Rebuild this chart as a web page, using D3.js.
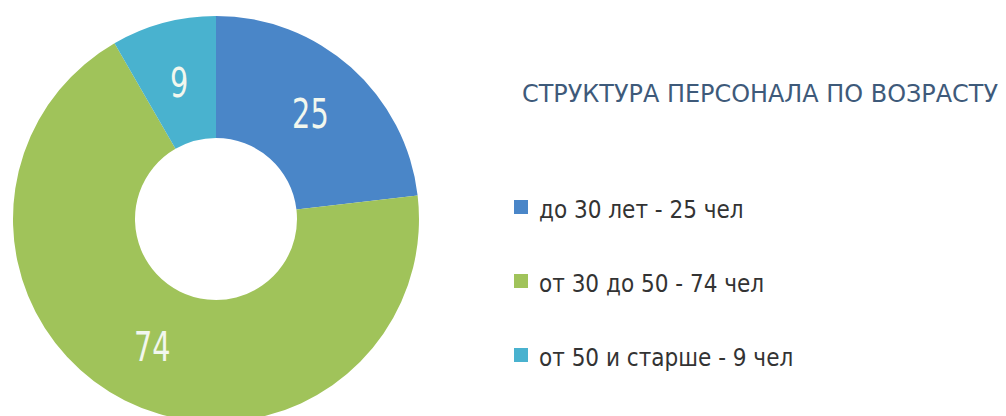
<!DOCTYPE html>
<html>
<head>
<meta charset="utf-8">
<script src="https://cdn.jsdelivr.net/npm/d3@7"></script>
<style>
  body { margin: 0; background: #fff; }
  svg { display: block; }
  .cond { font-family: "DejaVu Sans Condensed", "Liberation Sans Narrow", "Roboto", sans-serif; }
</style>
</head>
<body>
<svg id="chart"></svg>
<script>
// data
const categories = ["до 30 лет", "от 30 до 50", "от 50 и старше"];
const values = [25, 74, 9];
const legendLabels = ["до 30 лет - 25 чел", "от 30 до 50 - 74 чел", "от 50 и старше - 9 чел"];
const colors = ["#4A86C8", "#A0C35A", "#49B2CF"];
const title = "СТРУКТУРА ПЕРСОНАЛА ПО ВОЗРАСТУ";

const width = 1006, height = 416;
const cx = 216, cy = 219, outerR = 203, innerR = 81;

const svg = d3.select("#chart").attr("width", width).attr("height", height);

const color = d3.scaleOrdinal().domain(categories).range(colors);

const pie = d3.pie().sort(null).value(d => d.value);
const arc = d3.arc().innerRadius(innerR).outerRadius(outerR);

const slices = categories.map((c, i) => ({ category: c, value: values[i] }));

const g = svg.append("g").attr("transform", "translate(" + cx + "," + cy + ")");

g.selectAll("path")
  .data(pie(slices))
  .enter()
  .append("path")
  .attr("d", arc)
  .attr("fill", d => color(d.data.category));

// labels on the ring (squeezed a bit to look condensed)
g.selectAll("text")
  .data(pie(slices))
  .enter()
  .append("text")
  .attr("class", "cond")
  .attr("transform", d => "translate(" + arc.centroid(d) + ") scale(0.78,1)")
  .attr("text-anchor", "middle")
  .attr("dy", "0.36em")
  .style("font-size", "41px")
  .style("font-weight", "300")
  .style("fill", "#f2f7ee")
  .text(d => d.data.value);

// title
svg.append("text")
  .attr("class", "cond")
  .attr("x", 522)
  .attr("y", 102)
  .style("font-size", "25px")
  .style("fill", "#3E5A7A")
  .attr("textLength", 476)
  .attr("lengthAdjust", "spacingAndGlyphs")
  .text(title);

// legend
const legend = svg.append("g").attr("transform", "translate(514,200)");
const rowY = d3.scalePoint().domain(categories).range([0, 148]);

const rows = legend.selectAll("g")
  .data(categories)
  .enter()
  .append("g")
  .attr("transform", d => "translate(0," + rowY(d) + ")");

rows.append("rect")
  .attr("width", 14)
  .attr("height", 14)
  .attr("fill", d => color(d));

rows.append("text")
  .attr("class", "cond")
  .attr("x", 25)
  .attr("y", 18)
  .style("font-size", "24px")
  .style("fill", "#333")
  .text((d, i) => legendLabels[i]);
</script>
</body>
</html>
